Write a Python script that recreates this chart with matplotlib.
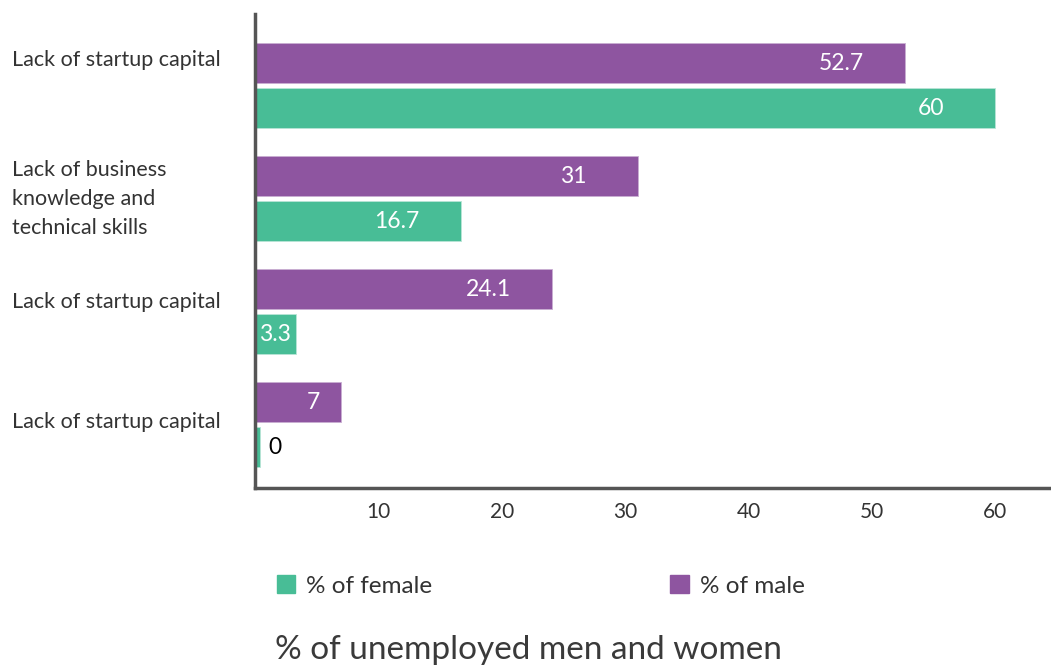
import numpy as np
import matplotlib
matplotlib.use("Agg")
import matplotlib.pyplot as plt
from matplotlib.patches import Patch
from matplotlib.transforms import blended_transform_factory

plt.rcParams['font.family'] = ['Lato', 'DejaVu Sans']

# ---- data
categories = ["Lack of startup capital",
              "Lack of business\nknowledge and\ntechnical skills",
              "Lack of startup capital",
              "Lack of startup capital"]
male   = [52.7, 31, 24.1, 7]
female = [60, 16.7, 3.3, 0]
xticks = [10, 20, 30, 40, 50, 60]

PURPLE = "#8E55A0"
GREEN  = "#48BD96"
DARK   = "#333333"

fig = plt.figure(figsize=(10.51, 6.66), dpi=100)
ax = fig.add_axes([0.2426, 0.2673, 0.7574, 0.7117])

y  = np.arange(len(categories))
bh = 0.354
off = 0.199

ax.barh(y - off, male, height=bh, color=PURPLE, edgecolor="#C9AED2", linewidth=0.6)
ax.barh(y + off, np.maximum(female, 0.4), height=bh, color=GREEN, edgecolor="#B9E5D6", linewidth=0.6)

XMAX = 64.5
ax.set_xlim(0, XMAX)
ax.set_ylim(3.558, -0.637)

# value labels
px = XMAX / (1051 * 0.7574)   # data units per pixel
def put_label(v, yy):
    if v == 0:
        ax.text(v + 13 * px, yy, "0", color="black", fontsize=16.5, va="center", ha="left")
    elif v < 10:
        xx = v / 2 if v < 5 else v - 28 * px
        ax.text(xx, yy, f"{v:g}", color="white", fontsize=16.5, va="center", ha="center")
    else:
        ax.text(v - 64 * px, yy, f"{v:g}", color="white", fontsize=16.5, va="center", ha="center")

for i in range(len(categories)):
    put_label(male[i], y[i] - off)
    put_label(female[i], y[i] + off)

# category labels on the left
tr = blended_transform_factory(fig.transFigure, ax.transData)
ypos = [y[0] - 0.23, y[1], y[2] - 0.09, y[3] - 0.03]
for lab, yy in zip(categories, ypos):
    ax.text(12 / 1051, yy, lab, transform=tr, ha="left", va="center",
            fontsize=15.5, color=DARK, linespacing=1.55)

ax.set_yticks([])
ax.set_xticks(xticks)
ax.tick_params(axis="x", length=0, pad=10, labelsize=15, labelcolor=DARK)

for s in ["top", "right"]:
    ax.spines[s].set_visible(False)
for s in ["left", "bottom"]:
    ax.spines[s].set_color("#555555")
    ax.spines[s].set_linewidth(2.5)

handles = [Patch(color=GREEN, label="% of female"), Patch(color=PURPLE, label="% of male")]
fig.legend(handles=handles, loc="center left", bbox_to_anchor=(255 / 1051, 1 - 586 / 666),
           ncol=2, frameon=False, fontsize=17.5, handlelength=0.75, handleheight=0.75,
           handletextpad=0.45, columnspacing=9.8, labelcolor=DARK)

fig.text(275 / 1051, 1 - 650 / 666, "% of unemployed men and women", ha="left", va="center",
         fontsize=24, fontweight="normal", color="#3a3a3a")

fig.savefig("out.png", dpi=100)
